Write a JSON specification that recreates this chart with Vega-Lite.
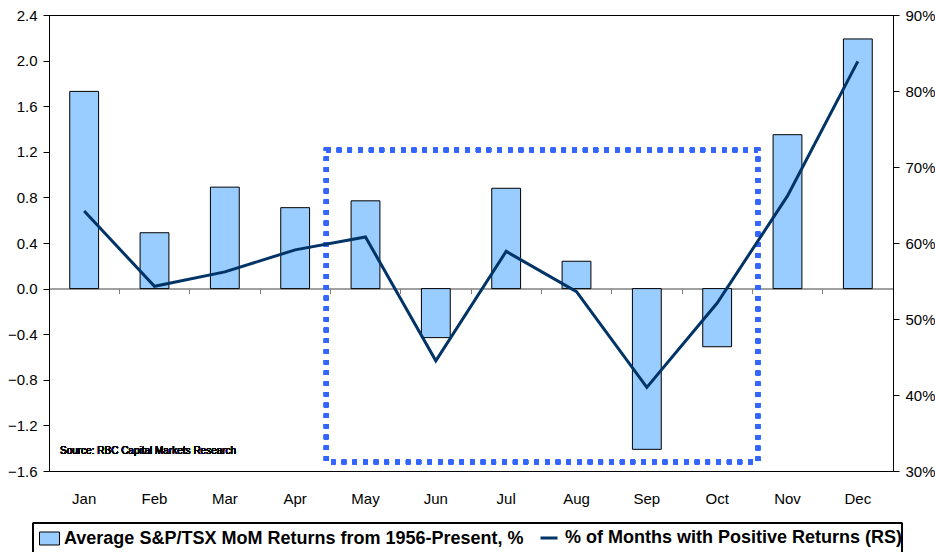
{
  "$schema": "https://vega.github.io/schema/vega-lite/v6.json",
  "width": 844,
  "height": 456,
  "autosize": "none",
  "padding": {"left": 49, "top": 15, "right": 42, "bottom": 81},
  "background": "white",
  "data": {
    "values": [
      {"month": "Jan", "ret": 1.73, "pos": 0.642},
      {"month": "Feb", "ret": 0.49, "pos": 0.543},
      {"month": "Mar", "ret": 0.89, "pos": 0.562},
      {"month": "Apr", "ret": 0.71, "pos": 0.591},
      {"month": "May", "ret": 0.77, "pos": 0.608},
      {"month": "Jun", "ret": -0.43, "pos": 0.445},
      {"month": "Jul", "ret": 0.88, "pos": 0.589},
      {"month": "Aug", "ret": 0.24, "pos": 0.536},
      {"month": "Sep", "ret": -1.41, "pos": 0.410},
      {"month": "Oct", "ret": -0.51, "pos": 0.521},
      {"month": "Nov", "ret": 1.35, "pos": 0.662},
      {"month": "Dec", "ret": 2.19, "pos": 0.839}
    ]
  },
  "layer": [
    {
      "layer": [
        {
          "mark": {"type": "bar", "stroke": "#000", "strokeWidth": 1, "width": {"band": 0.41}},
          "encoding": {
            "x": {
              "field": "month", "type": "nominal", "sort": null,
              "scale": {"paddingInner": 0, "paddingOuter": 0},
              "axis": {
                "orient": "bottom", "offset": -182.4, "labels": false, "title": null,
                "domainColor": "#808080", "domainWidth": 1.5, "tickColor": "#808080",
                "tickSize": 5, "tickWidth": 1, "bandPosition": 0, "grid": false
              }
            },
            "y": {
              "field": "ret", "type": "quantitative",
              "scale": {"domain": [-1.6, 2.4], "nice": false, "zero": false},
              "axis": {
                "orient": "left", "values": [-1.6, -1.2, -0.8, -0.4, 0, 0.4, 0.8, 1.2, 1.6, 2.0, 2.4],
                "format": ".1f", "title": null, "grid": false, "tickSize": 6,
                "tickColor": "#000", "domainColor": "#000", "labelPadding": 6,
                "labelFont": "Liberation Sans", "labelFontSize": 15, "labelColor": "#000"
              }
            },
            "fill": {
              "datum": "Average S&P/TSX MoM Returns from 1956-Present, %",
              "scale": {"domain": ["Average S&P/TSX MoM Returns from 1956-Present, %"], "range": ["#99ccff"]},
              "legend": {
                "orient": "none", "legendX": -10, "legendY": 513, "title": null,
                "labelFont": "Liberation Sans", "labelFontWeight": "bold", "labelFontSize": 18,
                "labelColor": "#000", "labelLimit": 0, "labelOffset": 4,
                "symbolType": "M-1,-0.65H1V0.65H-1Z", "symbolSize": 400,
                "symbolStrokeColor": "#000", "symbolStrokeWidth": 1, "symbolOpacity": 1
              }
            }
          }
        },
        {
          "mark": {"type": "rect", "filled": false, "stroke": "#3366ff", "strokeWidth": 4.5, "strokeDash": [4.5, 6.2]},
          "encoding": {
            "x": {"datum": "May", "type": "nominal", "bandPosition": -0.06},
            "x2": {"datum": "Oct", "bandPosition": 1.08},
            "y": {"datum": 1.216, "type": "quantitative"},
            "y2": {"datum": -1.521}
          }
        },
        {
          "mark": {"type": "rect", "filled": false, "stroke": "#000", "strokeWidth": 1},
          "encoding": {
            "x": {"datum": "Jan", "type": "nominal", "bandPosition": -0.228},
            "x2": {"datum": "Dec", "bandPosition": 1.129},
            "y": {"datum": -2.056, "type": "quantitative"},
            "y2": {"datum": -2.45}
          }
        },
        {
          "mark": {"type": "text", "align": "left", "baseline": "middle", "dx": 11, "font": "Liberation Sans", "fontSize": 10, "fontWeight": "normal", "fill": "#000", "strokeWidth": 0},
          "encoding": {
            "x": {"datum": "Jan", "type": "nominal", "bandPosition": 0},
            "y": {"datum": -1.425, "type": "quantitative"},
            "text": {"value": "Source: RBC Capital Markets Research"}
          }
        }
      ]
    },
    {
      "mark": {"type": "line", "strokeWidth": 3},
      "encoding": {
        "x": {
          "field": "month", "type": "nominal", "sort": null,
          "axis": {
            "orient": "bottom", "domain": false, "ticks": false, "title": null, "grid": false,
            "labelPadding": 20, "labelAngle": 0, "labelFont": "Liberation Sans", "labelFontSize": 15, "labelColor": "#000"
          }
        },
        "y": {
          "field": "pos", "type": "quantitative",
          "scale": {"domain": [0.3, 0.9], "nice": false, "zero": false},
          "axis": {
            "orient": "right", "values": [0.3, 0.4, 0.5, 0.6, 0.7, 0.8, 0.9], "format": ".0%",
            "title": null, "grid": false, "tickSize": 6, "tickColor": "#000", "domainColor": "#000",
            "labelPadding": 6, "labelFont": "Liberation Sans", "labelFontSize": 15, "labelColor": "#000"
          }
        },
        "stroke": {
          "datum": "% of Months with Positive Returns (RS)",
          "scale": {"domain": ["% of Months with Positive Returns (RS)"], "range": ["#003366"]},
          "legend": {
            "orient": "none", "legendX": 490, "legendY": 513, "title": null,
            "labelFont": "Liberation Sans", "labelFontWeight": "bold", "labelFontSize": 18,
            "labelColor": "#000", "labelLimit": 0, "labelOffset": 6,
            "symbolType": "stroke", "symbolSize": 289, "symbolStrokeWidth": 3, "symbolOpacity": 1
          }
        }
      }
    }
  ],
  "resolve": {"scale": {"y": "independent"}, "axis": {"x": "independent"}},
  "config": {"view": {"stroke": "#000", "strokeWidth": 1}}
}
